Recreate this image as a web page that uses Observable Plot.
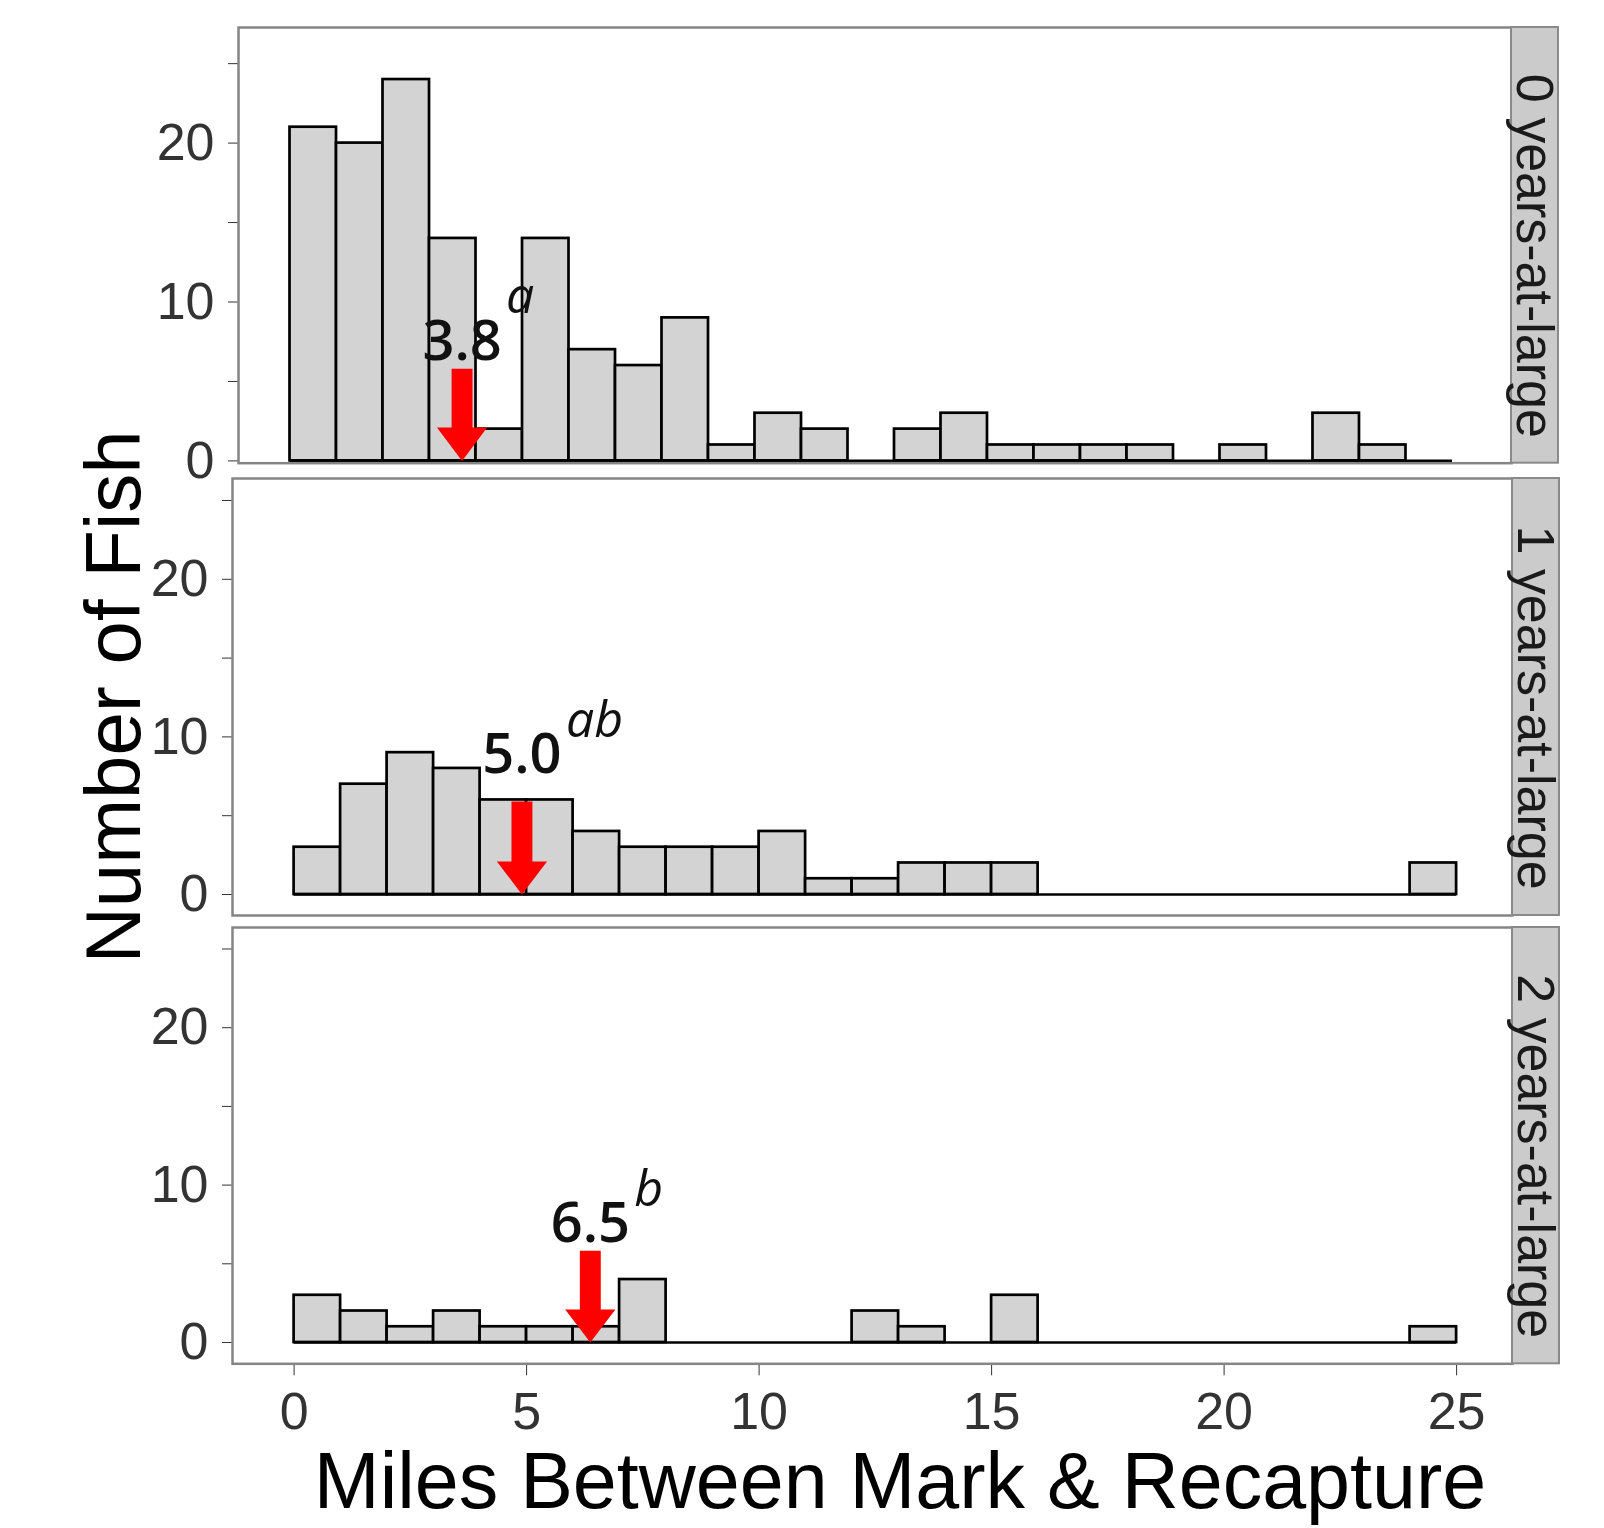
<!DOCTYPE html>
<html>
<head>
<meta charset="utf-8">
<script src="https://cdn.jsdelivr.net/npm/d3@7"></script>
<script src="https://cdn.jsdelivr.net/npm/@observablehq/plot@0.6"></script>
<style>
  html, body { margin: 0; padding: 0; background: #fff; }
  #chart { position: relative; width: 1604px; height: 1528px; overflow: hidden; background: #fff; }
  #chart > svg { position: absolute; left: 0; }
</style>
</head>
<body>
<div id="chart"></div>
<script>
// ---------------- DATA ----------------
const binEdges = [0, 1, 2, 3, 4, 5, 6, 7, 8, 9, 10, 11, 12, 13, 14, 15, 16, 17, 18, 19, 20, 21, 22, 23, 24, 25];
const panelLabels = ["0 years-at-large", "1 years-at-large", "2 years-at-large"];
const counts0yr = [21, 20, 24, 14, 2, 14, 7, 6, 9, 1, 3, 2, 0, 2, 3, 1, 1, 1, 1, 0, 1, 0, 3, 1, 0];
const counts1yr = [3, 7, 9, 8, 6, 6, 4, 3, 3, 3, 4, 1, 1, 2, 2, 2, 0, 0, 0, 0, 0, 0, 0, 0, 2];
const counts2yr = [3, 2, 1, 2, 1, 1, 1, 4, 0, 0, 0, 0, 2, 1, 0, 3, 0, 0, 0, 0, 0, 0, 0, 0, 1];
const meanLabels = ["3.8", "5.0", "6.5"];
const meanLetters = ["a", "ab", "b"];
const arrowX = [3.7, 4.9, 6.37];        // arrow / label position (miles)
const arrowTop = [5.8, 5.9, 5.83];      // top of arrow shaft (count units)
const labelBaseline = [6.34, 7.68, 6.35];
const xTicks = [0, 5, 10, 15, 20, 25];
const yTicks = [0, 5, 10, 15, 20, 25];
const yTickLabels = [0, 10, 20];
const xTitle = "Miles Between Mark & Recapture";
const yTitle = "Number of Fish";

// ---------------- LAYOUT (pixels) ----------------
const W = 1604;
const pxPerX = 46.5;
const layout = [
  {left: 238, right: 1511, top: 27.3, bottom: 463, x0px: 289.5, y0px: 460.7, pxPerY: 15.89, supRaise: 47},
  {left: 232, right: 1512, top: 478, bottom: 915, x0px: 293.6, y0px: 894, pxPerY: 15.76, supRaise: 36},
  {left: 232, right: 1512, top: 926.7, bottom: 1363, x0px: 293.6, y0px: 1341.7, pxPerY: 15.74, supRaise: 37}
];
const stripW = 47;
const pad = 12;
const tickFont = '"Liberation Sans", Arial, sans-serif';
const labelFont = '"Open Sans", "Noto Sans", sans-serif';

const allCounts = [counts0yr, counts1yr, counts2yr];
const chart = document.getElementById("chart");

allCounts.forEach((counts, i) => {
  const L = layout[i];
  const bins = counts.map((c, j) => ({x0: binEdges[j], x1: binEdges[j + 1], count: c}));
  const xDomain = [(L.left - L.x0px) / pxPerX, (L.right - L.x0px) / pxPerX];
  const yDomain = [(L.y0px - L.bottom) / L.pxPerY, (L.y0px - L.top) / L.pxPerY];
  const isBottom = i === allCounts.length - 1;
  const mb = isBottom ? 100 : pad;
  const H = (L.bottom - L.top) + pad + mb;

  // arrow polygon built around the data x position
  const sw = 0.225, hw = 0.54, hb = 2.1;
  const ax = arrowX[i], at = arrowTop[i];
  const arrowPts = [
    [ax - sw, at], [ax + sw, at], [ax + sw, hb], [ax + hw, hb], [ax, 0], [ax - hw, hb], [ax - sw, hb]
  ].map(([px, py]) => ({px, py}));
  const ann = [{x: arrowX[i], y: labelBaseline[i], label: meanLabels[i], sup: meanLetters[i]}];

  const stripMark = () => {
    const g = d3.create("svg:g");
    const x = L.right, y = pad, h = L.bottom - L.top;
    g.append("rect").attr("x", x).attr("y", y).attr("width", stripW).attr("height", h)
      .attr("fill", "#cbcbcb").attr("stroke", "#8a8a8a").attr("stroke-width", 2);
    g.append("text")
      .attr("transform", `translate(${x + stripW / 2 + 1},${y + h / 2 + 11}) rotate(90)`)
      .attr("text-anchor", "middle").attr("dy", "0.36em")
      .attr("font-family", tickFont).attr("font-size", 52).attr("fill", "#1a1a1a")
      .text(panelLabels[i]);
    return g.node();
  };

  const svg = Plot.plot({
    width: W,
    height: H,
    marginLeft: L.left,
    marginRight: W - L.right,
    marginTop: pad,
    marginBottom: mb,
    style: {fontFamily: tickFont, fontSize: "52px", color: "#333", background: "transparent", overflow: "visible"},
    x: {domain: xDomain, axis: isBottom ? "bottom" : null, ticks: xTicks, tickSize: 12, tickPadding: 16, label: null},
    y: {domain: yDomain, ticks: yTicks, tickFormat: d => (yTickLabels.includes(d) ? String(d) : ""), tickSize: 10, tickPadding: 14, label: null},
    marks: [
      Plot.rect(bins.filter(d => d.count > 0), {x1: "x0", x2: "x1", y1: 0, y2: "count", fill: "#d3d3d3", stroke: "#000", strokeWidth: 2.7}),
      Plot.ruleY([0], {x1: d3.min(bins, d => d.x0), x2: d3.max(bins, d => d.x1), stroke: "#000", strokeWidth: 2.7}),
      Plot.frame({stroke: "#858585", strokeWidth: 2.5}),
      Plot.line(arrowPts, {x: "px", y: "py", fill: "#ff0000", stroke: "none"}),
      Plot.text(ann, {x: "x", y: "y", text: "label", textAnchor: "middle", dy: -18,
        fontFamily: labelFont, fontSize: 56, fontWeight: 600, fill: "#111"}),
      Plot.text(ann, {x: "x", y: "y", text: "sup", textAnchor: "start", dx: 44, dy: -16 - L.supRaise,
        fontFamily: labelFont, fontSize: 50, fontStyle: "italic", fill: "#111"}),
      stripMark
    ]
  });
  svg.style.top = (L.top - pad) + "px";
  chart.appendChild(svg);
});

// Titles (overlay)
const overlay = d3.select(chart).append("svg")
  .attr("width", W).attr("height", 1528)
  .style("top", "0px").style("pointer-events", "none");
overlay.append("text")
  .attr("x", 900).attr("y", 1508)
  .attr("text-anchor", "middle")
  .attr("font-family", tickFont).attr("font-size", 79).attr("fill", "#000")
  .text(xTitle);
overlay.append("text")
  .attr("transform", "translate(140,697) rotate(-90)")
  .attr("text-anchor", "middle")
  .attr("font-family", tickFont).attr("font-size", 78).attr("fill", "#000")
  .text(yTitle);
</script>
</body>
</html>
